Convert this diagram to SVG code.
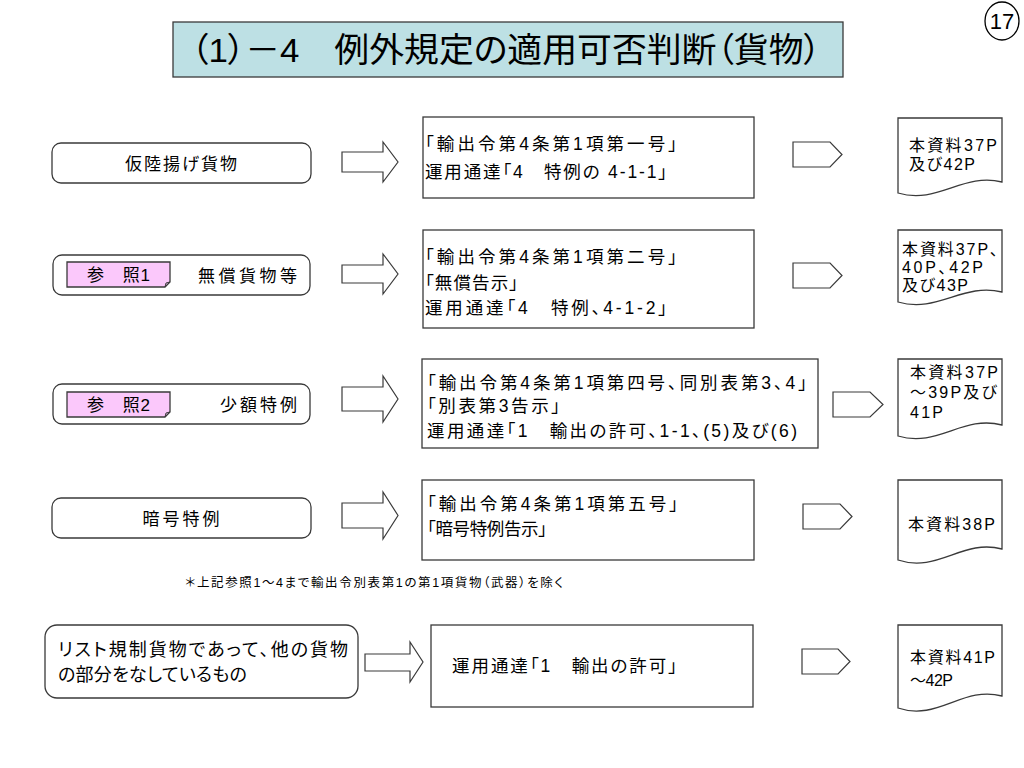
<svg xmlns="http://www.w3.org/2000/svg" width="1024" height="768" viewBox="0 0 1024 768">
<style>
text{font-family:"Liberation Sans","Noto Sans CJK JP",sans-serif;fill:#000;font-feature-settings:"palt" 1;}
.box{fill:#fff;stroke:#3a3a3a;stroke-width:1.3;}
.arr{fill:#fff;stroke:#3a3a3a;stroke-width:1.2;}
.pink{fill:#fbc8fb;stroke:#3a3a3a;stroke-width:1.3;}
.t17{font-size:17.5px;}
.tl{font-size:17px;}
.t15{font-size:16px;}
.t18{font-size:18px;}
</style>
<rect width="1024" height="768" fill="#fff"/>

<g id="title">
<rect x="173" y="22" width="670" height="55" fill="#bde0e4" stroke="#3a3a3a" stroke-width="1.3"/>
<text x="506" y="62" font-size="34" text-anchor="middle" textLength="630" lengthAdjust="spacingAndGlyphs">（1）－4　例外規定の適用可否判断（貨物）</text>
</g>
<g id="pageno">
<ellipse cx="1002" cy="21" rx="17" ry="19" fill="none" stroke="#000" stroke-width="1.3"/>
<text x="1002" y="29" font-size="22" text-anchor="middle">17</text>
</g>

<g id="src1">
<rect class="box" x="52" y="143" width="259" height="40" rx="9"/>
<text class="tl" x="181" y="169.5" text-anchor="middle" textLength="112">仮陸揚げ貨物</text>
</g>
<g id="src2">
<rect class="box" x="53" y="255" width="257" height="40" rx="9"/>
<path class="pink" d="M67,262 H170 V282 L165,287 H67 Z"/>
<path d="M165,287 L166,283 L170,282" fill="none" stroke="#3a3a3a" stroke-width="1"/>
<text class="tl" x="87" y="281" textLength="63">参　照1</text>
<text class="tl" x="198" y="281.5" textLength="99">無償貨物等</text>
</g>
<g id="src3">
<rect class="box" x="53" y="384" width="257" height="40" rx="9"/>
<path class="pink" d="M67,392 H170 V412 L165,417 H67 Z"/>
<path d="M165,417 L166,413 L170,412" fill="none" stroke="#3a3a3a" stroke-width="1"/>
<text class="tl" x="87" y="410.5" textLength="63">参　照2</text>
<text class="tl" x="220" y="410.5" textLength="77">少額特例</text>
</g>
<g id="src4">
<rect class="box" x="52" y="498" width="259" height="40" rx="9"/>
<text class="tl" x="181" y="524.5" text-anchor="middle" textLength="77">暗号特例</text>
</g>
<g id="src5">
<rect class="box" x="45" y="625" width="313" height="73" rx="12"/>
<text class="t18" x="58" y="656" textLength="290">リスト規制貨物であって、他の貨物</text>
<text class="t18" x="58" y="681" textLength="189">の部分をなしているもの</text>
</g>

<g id="rule1">
<rect class="box" x="423" y="117" width="331" height="81"/>
<text class="t17" x="425" y="149.5" textLength="252">「輸出令第4条第1項第一号」</text>
<text class="t17" x="425" y="177.5" textLength="242">運用通達「4　特例の 4-1-1」</text>
</g>
<g id="rule2">
<rect class="box" x="423" y="230" width="331" height="98"/>
<text class="t17" x="425" y="262.5" textLength="252">「輸出令第4条第1項第二号」</text>
<text class="t17" x="425" y="288.5" textLength="93">「無償告示」</text>
<text class="t17" x="425" y="313.5" textLength="242">運用通達「4　特例、4-1-2」</text>
</g>
<g id="rule3">
<rect class="box" x="422" y="359" width="396" height="89"/>
<text class="t17" x="427" y="388.5" textLength="380">「輸出令第4条第1項第四号、同別表第3、4」</text>
<text class="t17" x="427" y="411.5" textLength="133">「別表第3告示」</text>
<text class="t17" x="427" y="436.5" textLength="370">運用通達「1　輸出の許可、1-1、(5)及び(6)</text>
</g>
<g id="rule4">
<rect class="box" x="422" y="480" width="332" height="80"/>
<text class="t17" x="427" y="509.5" textLength="251">「輸出令第4条第1項第五号」</text>
<text class="t17" x="427" y="534.5" textLength="120">「暗号特例告示」</text>
</g>
<g id="rule5">
<rect class="box" x="431" y="625" width="322" height="82"/>
<text class="t17" x="452" y="671.5" textLength="225">運用通達「1　輸出の許可」</text>
</g>

<g id="doc1">
<path class="box" d="M898,118 H1002 V182 C962.7,172.3 937.8,204.8 898,193 Z"/>
<text class="t15" x="909" y="151" textLength="88">本資料37P</text>
<text class="t15" x="909" y="169.5" textLength="66">及び42P</text>
</g>
<g id="doc2">
<path class="box" d="M898,230 H1002 V292 C962.7,282.3 937.8,313.5 898,302 Z"/>
<text class="t15" x="902" y="254.5" textLength="96">本資料37P、</text>
<text class="t15" x="902" y="272.5" textLength="81">40P、42P</text>
<text class="t15" x="902" y="291" textLength="66">及び43P</text>
</g>
<g id="doc3">
<path class="box" d="M898,359 H1002 V425 C962.7,414.7 937.8,448 898,436 Z"/>
<text class="t15" x="910" y="377.5" textLength="88">本資料37P</text>
<text class="t15" x="910" y="397.5" textLength="87">～39P及び</text>
<text class="t15" x="910" y="417.5" textLength="33">41P</text>
</g>
<g id="doc4">
<path class="box" d="M898,480 H1002 V549 C962.7,538.4 937.8,573.3 898,560 Z"/>
<text class="t15" x="908" y="529.5" textLength="87">本資料38P</text>
</g>
<g id="doc5">
<path class="box" d="M898,625 H1002 V696 C962.7,685.4 937.8,721.6 898,708 Z"/>
<text class="t15" x="910" y="662.5" textLength="85">本資料41P</text>
<text class="t15" x="910" y="686" textLength="43">～42P</text>
</g>

<g id="note">
<text x="185" y="587" font-size="12.5" textLength="378">＊上記参照1～4まで輸出令別表第1の第1項貨物（武器）を除く</text>
</g>

<g id="connectors">
<path class="arr" d="M342,152 H383 V142 L398,162 L383,182 V172 H342 Z"/>
<path class="arr" d="M342,265 H383 V254 L398,274 L383,294 V283 H342 Z"/>
<path class="arr" d="M342,387 H383 V376 L398,399 L383,422 V411 H342 Z"/>
<path class="arr" d="M342,503 H383 V492 L398,515.5 L383,539 V528 H342 Z"/>
<path class="arr" d="M365,654 H410 V642 L423,662 L410,682 V671 H365 Z"/>
<path class="arr" d="M793,142 H830 L842,154.5 L830,167 H793 Z"/>
<path class="arr" d="M793,263 H830 L842,275.5 L830,288 H793 Z"/>
<path class="arr" d="M833,392 H870 L883,404.5 L870,417 H833 Z"/>
<path class="arr" d="M803,504 H840 L852,516.5 L840,529 H803 Z"/>
<path class="arr" d="M802,649 H838 L850,661.5 L838,674 H802 Z"/>
</g>
</svg>
